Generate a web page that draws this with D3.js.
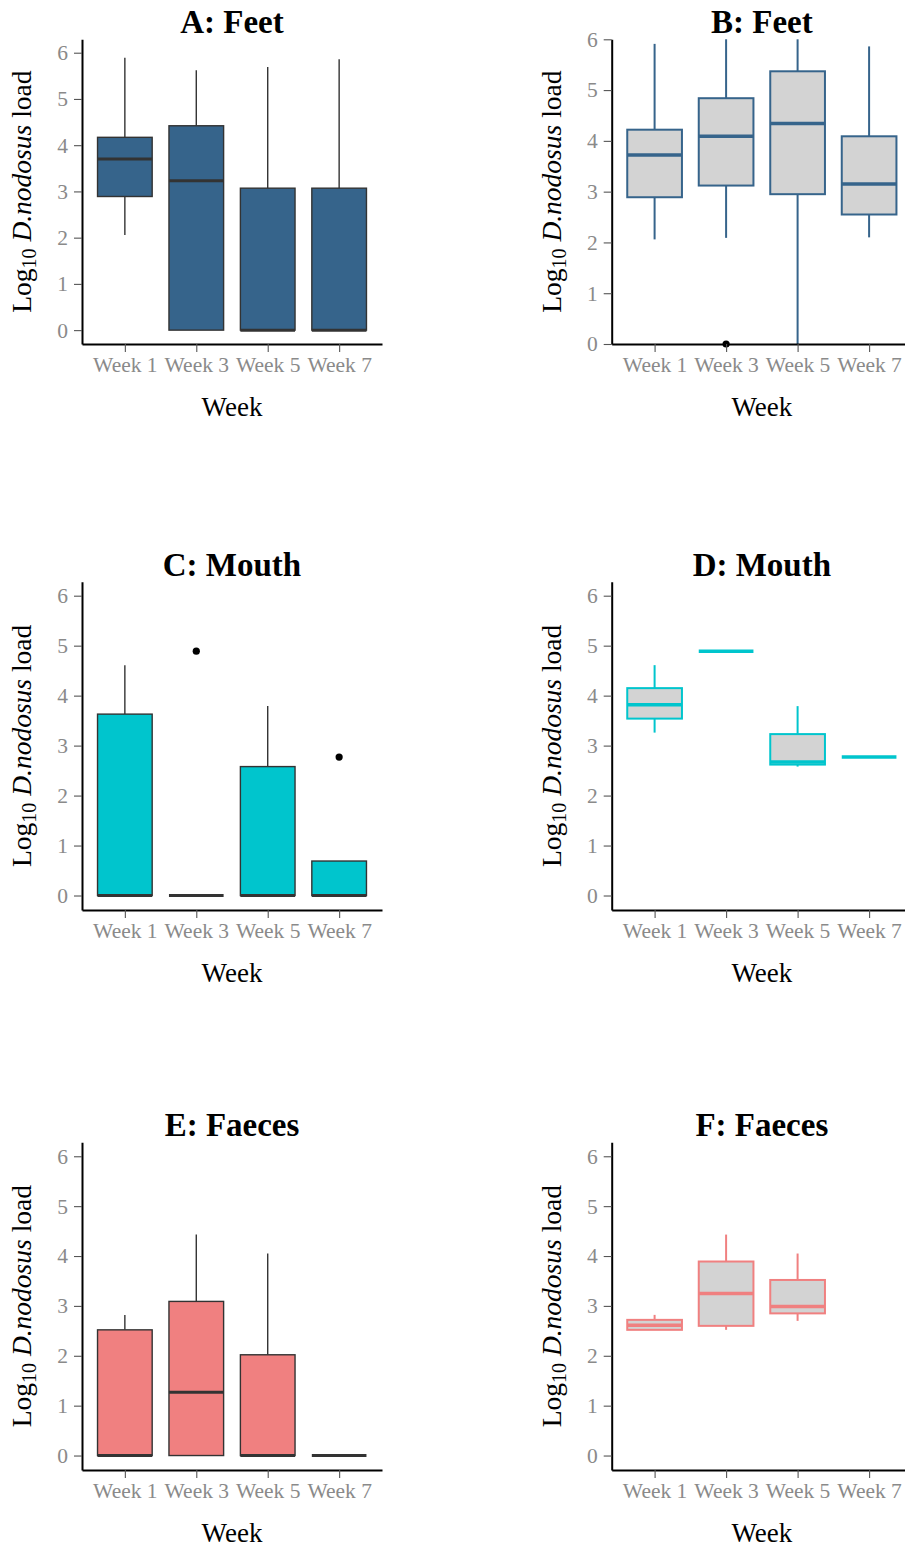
<!DOCTYPE html>
<html>
<head>
<meta charset="utf-8">
<script src="https://cdn.jsdelivr.net/npm/d3@7"></script>
<style>
  body { margin: 0; background: #fff; }
  svg { display: block; font-family: "Liberation Serif", "Times New Roman", serif; }
</style>
</head>
<body>
<div id="chart"></div>
<script>
var width = 905, height = 1549;

var weeks = ['Week 1', 'Week 3', 'Week 5', 'Week 7'];

// five-number summaries per week: [lower whisker, Q1, median, Q3, upper whisker]
var feetA = [[2.06, 2.89, 3.70, 4.17, 5.89], [0, 0, 3.23, 4.42, 5.62], [0, 0, 0, 3.07, 5.69], [0, 0, 0, 3.07, 5.86]];
var feetB = [[2.06, 2.89, 3.72, 4.22, 5.91], [2.09, 3.12, 4.09, 4.84, 6.0], [0, 2.95, 4.34, 5.37, 6.0], [2.10, 2.55, 3.15, 4.09, 5.86]];
var feetBOut = [[], [0], [], []];
var mouthC = [[0, 0, 0, 3.63, 4.61], [0, 0, 0, 0, 0], [0, 0, 0, 2.58, 3.79], [0, 0, 0, 0.69, 0.69]];
var mouthCOut = [[], [4.89], [], [2.77]];
var mouthD = [[3.26, 3.54, 3.82, 4.15, 4.61], [4.89, 4.89, 4.89, 4.89, 4.89], [2.58, 2.62, 2.67, 3.23, 3.79], [2.77, 2.77, 2.77, 2.77, 2.77]];
var faecesE = [[0, 0, 0, 2.52, 2.82], [0, 0, 1.27, 3.09, 4.43], [0, 0, 0, 2.02, 4.05], [0, 0, 0, 0, 0]];
var faecesF = [[2.52, 2.52, 2.61, 2.72, 2.82], [2.52, 2.60, 3.25, 3.89, 4.43], [2.70, 2.85, 2.99, 3.52, 4.05], null];
var yTicks = [0, 1, 2, 3, 4, 5, 6];

var blue = '#36648b', cyan = '#00c5cd', coral = '#f08080', grey = '#d3d3d3';

var panels = [
    { title: 'A: Feet',   data: feetA,   out: [], fill: blue,  stroke: '#333', col: 0, row: 0, dom: [-0.3, 6.29] },
    { title: 'B: Feet',   data: feetB,   out: feetBOut, fill: grey, stroke: blue, col: 1, row: 0, dom: [0, 6] },
    { title: 'C: Mouth',  data: mouthC,  out: mouthCOut, fill: cyan, stroke: '#333', col: 0, row: 1, dom: [-0.29, 6.28] },
    { title: 'D: Mouth',  data: mouthD,  out: [], fill: grey, stroke: cyan, col: 1, row: 1, dom: [-0.29, 6.28] },
    { title: 'E: Faeces', data: faecesE, out: [], fill: coral, stroke: '#333', col: 0, row: 2, dom: [-0.29, 6.28] },
    { title: 'F: Faeces', data: faecesF, out: [], fill: grey, stroke: coral, col: 1, row: 2, dom: [-0.29, 6.28] }
];

var colX = [[82, 382], [611.7, 912]];
var rowY = [[39.3, 344], [581.7, 910], [1142.3, 1470]];

var svg = d3.select('#chart').append('svg')
    .attr('width', width)
    .attr('height', height);

panels.forEach(function (p) {
    var xr = colX[p.col], yr = rowY[p.row];
    var outlined = p.fill === grey;
    var lw = outlined ? 2 : 1.4;
    var medW = outlined ? 3.5 : 3;

    var x = d3.scalePoint().domain(weeks).range(xr).padding(0.6);
    var y = d3.scaleLinear().domain(p.dom).range([yr[1], yr[0]]);
    var bw = x.step() * 0.765;

    var g = svg.append('g');

    // boxes
    p.data && p.data.forEach(function (d, i) {
        if (!d) return;
        var cx = x(weeks[i]);
        var box = g.append('g');
        box.append('line')
            .attr('x1', cx).attr('x2', cx)
            .attr('y1', y(d[4])).attr('y2', y(d[3]))
            .attr('stroke', p.stroke).attr('stroke-width', lw);
        box.append('line')
            .attr('x1', cx).attr('x2', cx)
            .attr('y1', y(d[1])).attr('y2', y(d[0]))
            .attr('stroke', p.stroke).attr('stroke-width', lw);
        box.append('rect')
            .attr('x', cx - bw / 2).attr('width', bw)
            .attr('y', y(d[3])).attr('height', Math.max(0, y(d[1]) - y(d[3])))
            .attr('fill', p.fill)
            .attr('stroke', p.stroke).attr('stroke-width', lw);
        box.append('line')
            .attr('x1', cx - bw / 2).attr('x2', cx + bw / 2)
            .attr('y1', y(d[2])).attr('y2', y(d[2]))
            .attr('stroke', p.stroke).attr('stroke-width', medW);
    });

    // outliers
    p.out.forEach(function (vals, i) {
        vals.forEach(function (v) {
            g.append('circle')
                .attr('cx', x(weeks[i])).attr('cy', y(v))
                .attr('r', 3.6).attr('fill', '#000');
        });
    });

    // axes
    var ay = g.append('g')
        .attr('transform', 'translate(' + xr[0] + ',0)')
        .call(d3.axisLeft(y).tickValues(yTicks).tickFormat(d3.format('d'))
            .tickSize(8).tickSizeOuter(0).tickPadding(6));
    var ax = g.append('g')
        .attr('transform', 'translate(0,' + yr[1] + ')')
        .call(d3.axisBottom(x).tickSize(8).tickSizeOuter(0).tickPadding(5));

    [ay, ax].forEach(function (a) {
        a.select('.domain').attr('stroke', '#000').attr('stroke-width', 2);
        a.selectAll('.tick line').attr('stroke', '#555').attr('stroke-width', 1.1);
        a.selectAll('.tick text')
            .attr('fill', '#8a8a8a')
            .style('font-family', '"Liberation Serif", serif')
            .style('font-size', '21.5px');
    });

    var midX = (xr[0] + xr[1]) / 2;
    var midY = (yr[0] + yr[1]) / 2;

    // title
    g.append('text')
        .attr('x', midX).attr('y', yr[0] - 6)
        .attr('text-anchor', 'middle')
        .style('font-size', '33px').style('font-weight', 'bold')
        .text(p.title);

    // x title
    g.append('text')
        .attr('x', midX).attr('y', yr[1] + 72)
        .attr('text-anchor', 'middle')
        .style('font-size', '27px')
        .text('Week');

    // y title
    var yt = g.append('text')
        .attr('transform', 'translate(' + (xr[0] - 51) + ',' + midY + ') rotate(-90)')
        .attr('text-anchor', 'middle')
        .style('font-size', '27.5px');
    yt.append('tspan').text('Log');
    yt.append('tspan').attr('dy', 5).style('font-size', '20px').text('10');
    yt.append('tspan').attr('dy', -5).text(' ');
    yt.append('tspan').style('font-style', 'italic').text('D.nodosus');
    yt.append('tspan').text(' load');
});
</script>
</body>
</html>
